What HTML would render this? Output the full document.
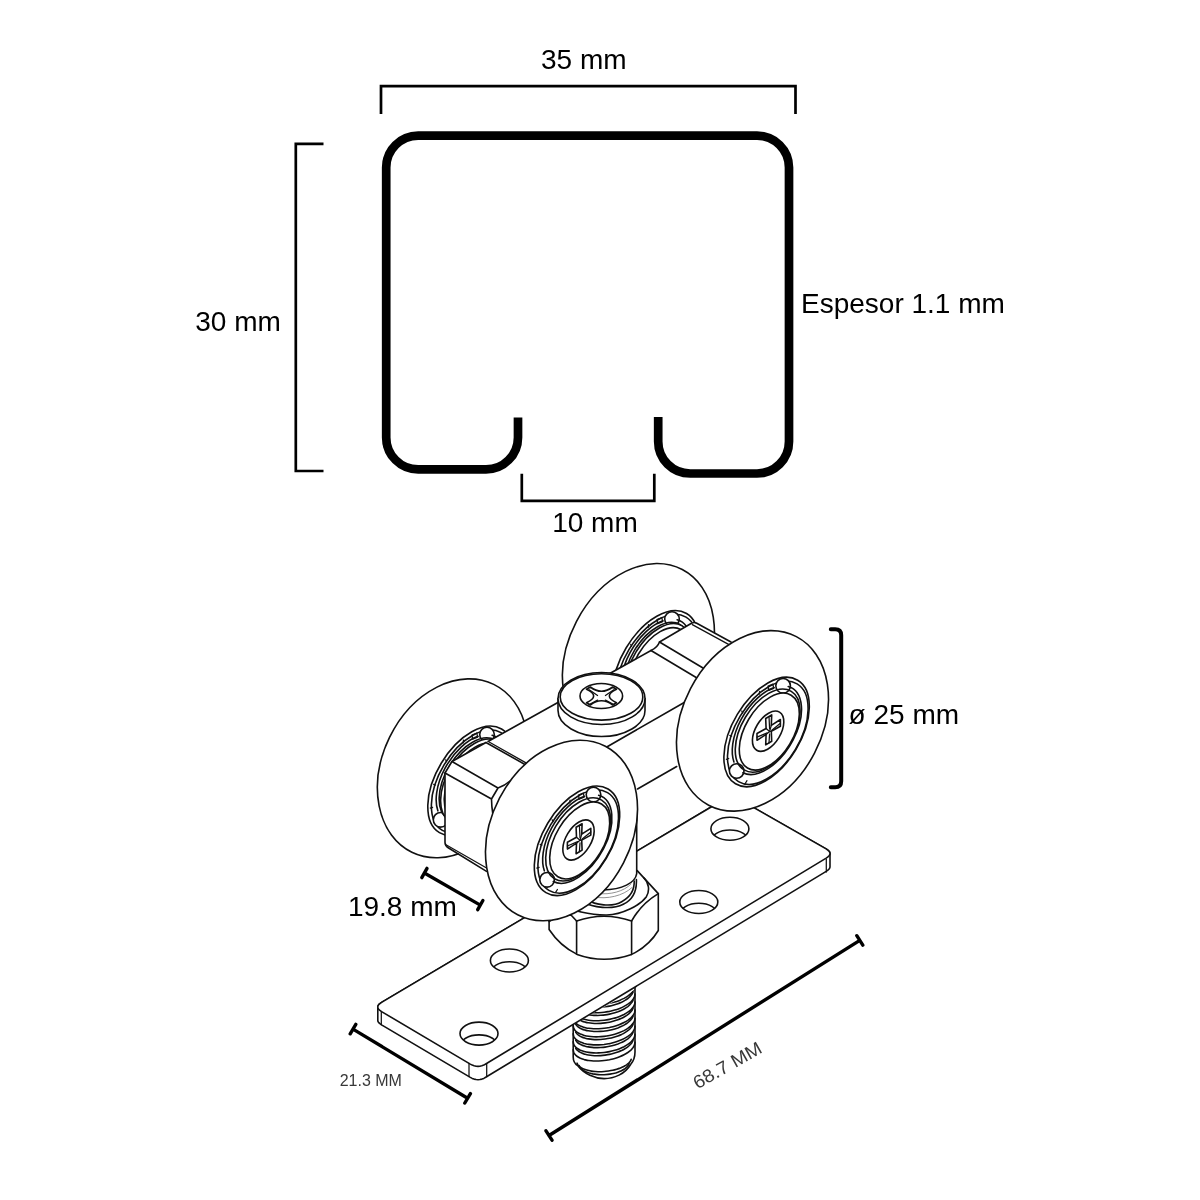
<!DOCTYPE html>
<html lang="es">
<head>
<meta charset="utf-8">
<title>Medidas del perfil y carro de rodamiento</title>
<style>
html,body{margin:0;padding:0;background:#fff;}
body{width:1200px;height:1200px;overflow:hidden;position:relative;font-family:"Liberation Sans",sans-serif;}
svg{position:absolute;left:0;top:0;display:block;will-change:transform;}
.t{font-family:"Liberation Sans",sans-serif;font-size:28px;fill:#000;}
.s{font-family:"Liberation Sans",sans-serif;font-size:16px;fill:#383838;}
.dim{fill:none;stroke:#000;stroke-width:2.7;}
.prof{fill:none;stroke:#000;stroke-width:8.7;}
.l{fill:none;stroke:#111;stroke-width:1.6;stroke-linejoin:round;stroke-linecap:round;}
.lw{fill:#fff;stroke:#111;stroke-width:1.6;stroke-linejoin:round;stroke-linecap:round;}
.w{fill:#fff;stroke:none;}
.th{fill:none;stroke:#111;stroke-width:1.25;stroke-linejoin:round;stroke-linecap:round;}
.thw{fill:#fff;stroke:#111;stroke-width:1.25;stroke-linejoin:round;stroke-linecap:round;}
.b{fill:none;stroke:#000;stroke-width:3.4;stroke-linecap:round;stroke-linejoin:round;}
.b2{fill:none;stroke:#000;stroke-width:4;stroke-linecap:round;stroke-linejoin:round;}
</style>
</head>
<body>
<svg width="1200" height="1200" viewBox="0 0 1200 1200">
<!-- TOP: profile -->
<g id="top">
<path class="dim" d="M381,114 V86.2 H795.5 V114"/>
<path class="dim" d="M323.5,143.8 H295.8 V471 H323.5"/>
<path class="dim" d="M521.8,473.8 V500.8 H654.3 V473.8"/>
<path class="prof" d="M518,417.5 V437.4 A32,32 0 0 1 486,469.4 H418.2 A32,32 0 0 1 386.2,437.4 V167.6 A32,32 0 0 1 418.2,135.6 H757 A32,32 0 0 1 789,167.6 V441.5 A32,32 0 0 1 757,473.5 H690.2 A32,32 0 0 1 658.2,441.5 V417"/>
<text class="t" x="541" y="69">35 mm</text>
<text class="t" x="195.3" y="330.7">30 mm</text>
<text class="t" x="552.2" y="531.5">10 mm</text>
<text class="t" x="801" y="313.2">Espesor 1.1 mm</text>
</g>
<!-- BOTTOM: trolley -->
<g id="bot">
<ellipse class="lw" cx="638.4" cy="653.8" rx="95" ry="69.9" transform="rotate(-62.5 638.4 653.8)"/>
<ellipse class="lw" cx="655.5" cy="665.3" rx="60.39" ry="34.16" transform="rotate(120.97 655.5 665.3)"/>
<ellipse class="l" cx="656.7" cy="666.02" rx="56.99" ry="32.24" transform="rotate(120.97 656.7 666.02)"/>
<circle class="lw" cx="672" cy="619.1" r="7.3"/>
<circle class="lw" cx="625.6" cy="704.3" r="7.3"/>
<path class="l" d="M663,620.81 A48.99,27.71 120.97 0 0 622.85,695.34"/>
<path class="l" d="M631.73,706.09 A48.99,27.71 120.97 1 0 677.13,619.78"/>
<ellipse class="l" cx="656.57" cy="663.92" rx="45.84" ry="25.93" transform="rotate(120.97 656.57 663.92)"/>
<path class="th" d="M648.5,624.6 L648.2,627.4"/>
<path class="th" d="M630.7,644.3 L631.5,646.2"/>
<path class="th" d="M618.7,668.8 L620.5,669.5"/>
<path class="th" d="M615.3,692.6 L617.6,691.8"/>
<path class="th" d="M634.1,716.8 L635.9,714"/>
<path class="th" d="M657,619.5 L661.8,617.5 L662.6,621.7 L657.6,623.7 Z"/>
<ellipse class="lw" cx="658.37" cy="665.62" rx="46.32" ry="26.2" transform="rotate(120.97 658.37 665.62)"/>
<ellipse class="lw" cx="659.23" cy="666.14" rx="42.44" ry="24.01" transform="rotate(120.97 659.23 666.14)"/>
<ellipse class="lw" cx="452.8" cy="768.3" rx="93.4" ry="70.4" transform="rotate(-64 452.8 768.3)"/>
<ellipse class="lw" cx="470.5" cy="780.8" rx="60.39" ry="34.16" transform="rotate(120.97 470.5 780.8)"/>
<ellipse class="l" cx="471.7" cy="781.52" rx="56.99" ry="32.24" transform="rotate(120.97 471.7 781.52)"/>
<circle class="lw" cx="487" cy="734.6" r="7.3"/>
<circle class="lw" cx="440.6" cy="819.8" r="7.3"/>
<path class="l" d="M478,736.31 A48.99,27.71 120.97 0 0 437.85,810.84"/>
<path class="l" d="M446.73,821.59 A48.99,27.71 120.97 1 0 492.13,735.28"/>
<ellipse class="l" cx="471.57" cy="779.42" rx="45.84" ry="25.93" transform="rotate(120.97 471.57 779.42)"/>
<path class="th" d="M463.5,740.1 L463.2,742.9"/>
<path class="th" d="M445.7,759.8 L446.5,761.7"/>
<path class="th" d="M433.7,784.3 L435.5,785"/>
<path class="th" d="M430.3,808.1 L432.6,807.3"/>
<path class="th" d="M449.1,832.3 L450.9,829.5"/>
<path class="th" d="M472,735 L476.8,733 L477.6,737.2 L472.6,739.2 Z"/>
<ellipse class="lw" cx="473.37" cy="781.12" rx="46.32" ry="26.2" transform="rotate(120.97 473.37 781.12)"/>
<ellipse class="lw" cx="474.23" cy="781.64" rx="42.44" ry="24.01" transform="rotate(120.97 474.23 781.64)"/>
<path class="lw" d="M573.2,1000 V1057 C573.2,1061 575.1,1064 577.6,1065.5 C584.1,1074 595.1,1078.6 604.1,1078.6 C614.1,1078.6 625.1,1074 630.6,1064.5 C633.6,1061 635,1057 635,1052 V985 Z"/>
<clipPath id="bc"><path d="M560,1090 V1032 L650,981 V1090 Z"/></clipPath>
<g clip-path="url(#bc)">
<path class="l" d="M573.2,977.4 C573.3,977.8 573.4,979 573.7,979.8 C574,980.6 574.5,981.4 575.1,982.1 C575.7,982.8 576.4,983.5 577.3,984.1 C578.2,984.7 579.3,985.3 580.4,985.8 C581.6,986.3 582.9,986.7 584.2,987.1 C585.6,987.5 587.1,987.8 588.6,988 C590.2,988.3 591.9,988.4 593.5,988.5 C595.2,988.6 597,988.6 598.7,988.5 C600.5,988.5 602.3,988.3 604.1,988.1 C605.9,987.9 607.7,987.6 609.5,987.2 C611.2,986.9 613,986.4 614.7,985.9 C616.3,985.5 618,984.9 619.6,984.3 C621.1,983.7 622.6,983 624,982.3 C625.3,981.6 626.6,980.8 627.8,980 C628.9,979.3 630,978.4 630.9,977.6 C631.8,976.8 632.5,975.9 633.1,975 C633.7,974.2 634.2,973.3 634.5,972.4 C634.8,971.6 634.9,970.3 635,969.9"/>
<path class="l" d="M575.7,983.9 C575.9,984.2 576.5,985.2 577.1,985.7 C577.6,986.3 578.3,986.8 579.1,987.3 C579.8,987.8 580.7,988.3 581.7,988.7 C582.6,989.1 583.6,989.5 584.7,989.8 C585.9,990.1 587,990.4 588.3,990.6 C589.5,990.8 590.8,991 592.2,991.1 C593.5,991.2 594.9,991.3 596.4,991.3 C597.8,991.3 599.2,991.3 600.7,991.2 C602.2,991.1 603.7,990.9 605.1,990.7 C606.6,990.5 608.1,990.3 609.5,990 C611,989.7 612.4,989.3 613.8,988.9 C615.2,988.5 616.6,988.1 617.9,987.6 C619.2,987.1 620.4,986.6 621.6,986.1 C622.8,985.5 623.9,984.9 624.9,984.3 C626,983.7 626.9,983.1 627.8,982.4 C628.7,981.8 629.5,981.1 630.1,980.4 C630.8,979.7 631.4,979 631.9,978.3 C632.3,977.6 632.8,976.5 633,976.2"/>
<path class="l" d="M573.2,985.4 C573.3,985.8 573.4,987.1 573.7,987.9 C574,988.6 574.5,989.4 575.1,990.1 C575.7,990.8 576.4,991.5 577.3,992.1 C578.2,992.8 579.3,993.3 580.4,993.8 C581.6,994.3 582.9,994.8 584.2,995.2 C585.6,995.5 587.1,995.9 588.6,996.1 C590.2,996.3 591.9,996.5 593.5,996.6 C595.2,996.6 597,996.6 598.7,996.6 C600.5,996.5 602.3,996.4 604.1,996.1 C605.9,995.9 607.7,995.6 609.5,995.3 C611.2,994.9 613,994.5 614.7,994 C616.3,993.5 618,992.9 619.6,992.3 C621.1,991.7 622.6,991.1 624,990.3 C625.3,989.6 626.6,988.9 627.8,988.1 C628.9,987.3 630,986.5 630.9,985.7 C631.8,984.8 632.5,983.9 633.1,983.1 C633.7,982.2 634.2,981.3 634.5,980.5 C634.8,979.6 634.9,978.3 635,977.9"/>
<path class="l" d="M575.7,992 C575.9,992.3 576.5,993.2 577.1,993.8 C577.6,994.3 578.3,994.9 579.1,995.4 C579.8,995.9 580.7,996.3 581.7,996.7 C582.6,997.1 583.6,997.5 584.7,997.8 C585.9,998.1 587,998.4 588.3,998.6 C589.5,998.9 590.8,999 592.2,999.1 C593.5,999.3 594.9,999.3 596.4,999.3 C597.8,999.4 599.2,999.3 600.7,999.2 C602.2,999.1 603.7,999 605.1,998.8 C606.6,998.6 608.1,998.3 609.5,998 C611,997.7 612.4,997.4 613.8,997 C615.2,996.6 616.6,996.1 617.9,995.7 C619.2,995.2 620.4,994.7 621.6,994.1 C622.8,993.6 623.9,993 624.9,992.4 C626,991.8 626.9,991.1 627.8,990.5 C628.7,989.8 629.5,989.1 630.1,988.4 C630.8,987.7 631.4,987 631.9,986.3 C632.3,985.6 632.8,984.6 633,984.2"/>
<path class="l" d="M573.2,993.5 C573.3,993.9 573.4,995.1 573.7,995.9 C574,996.7 574.5,997.5 575.1,998.2 C575.7,998.9 576.4,999.6 577.3,1000.2 C578.2,1000.8 579.3,1001.4 580.4,1001.9 C581.6,1002.4 582.9,1002.8 584.2,1003.2 C585.6,1003.6 587.1,1003.9 588.6,1004.1 C590.2,1004.4 591.9,1004.5 593.5,1004.6 C595.2,1004.7 597,1004.7 598.7,1004.6 C600.5,1004.6 602.3,1004.4 604.1,1004.2 C605.9,1004 607.7,1003.7 609.5,1003.3 C611.2,1003 613,1002.5 614.7,1002 C616.3,1001.6 618,1001 619.6,1000.4 C621.1,999.8 622.6,999.1 624,998.4 C625.3,997.7 626.6,996.9 627.8,996.1 C628.9,995.4 630,994.5 630.9,993.7 C631.8,992.9 632.5,992 633.1,991.1 C633.7,990.3 634.2,989.4 634.5,988.5 C634.8,987.7 634.9,986.4 635,986"/>
<path class="l" d="M575.7,1000 C575.9,1000.3 576.5,1001.3 577.1,1001.8 C577.6,1002.4 578.3,1002.9 579.1,1003.4 C579.8,1003.9 580.7,1004.4 581.7,1004.8 C582.6,1005.2 583.6,1005.6 584.7,1005.9 C585.9,1006.2 587,1006.5 588.3,1006.7 C589.5,1006.9 590.8,1007.1 592.2,1007.2 C593.5,1007.3 594.9,1007.4 596.4,1007.4 C597.8,1007.4 599.2,1007.4 600.7,1007.3 C602.2,1007.2 603.7,1007 605.1,1006.8 C606.6,1006.6 608.1,1006.4 609.5,1006.1 C611,1005.8 612.4,1005.4 613.8,1005 C615.2,1004.6 616.6,1004.2 617.9,1003.7 C619.2,1003.2 620.4,1002.7 621.6,1002.2 C622.8,1001.6 623.9,1001 624.9,1000.4 C626,999.8 626.9,999.2 627.8,998.5 C628.7,997.9 629.5,997.2 630.1,996.5 C630.8,995.8 631.4,995.1 631.9,994.4 C632.3,993.7 632.8,992.6 633,992.3"/>
<path class="l" d="M573.2,1001.5 C573.3,1001.9 573.4,1003.2 573.7,1004 C574,1004.7 574.5,1005.5 575.1,1006.2 C575.7,1006.9 576.4,1007.6 577.3,1008.2 C578.2,1008.9 579.3,1009.4 580.4,1009.9 C581.6,1010.4 582.9,1010.9 584.2,1011.3 C585.6,1011.6 587.1,1012 588.6,1012.2 C590.2,1012.4 591.9,1012.6 593.5,1012.7 C595.2,1012.7 597,1012.7 598.7,1012.7 C600.5,1012.6 602.3,1012.5 604.1,1012.2 C605.9,1012 607.7,1011.7 609.5,1011.4 C611.2,1011 613,1010.6 614.7,1010.1 C616.3,1009.6 618,1009 619.6,1008.4 C621.1,1007.8 622.6,1007.2 624,1006.4 C625.3,1005.7 626.6,1005 627.8,1004.2 C628.9,1003.4 630,1002.6 630.9,1001.8 C631.8,1000.9 632.5,1000 633.1,999.2 C633.7,998.3 634.2,997.4 634.5,996.6 C634.8,995.7 634.9,994.4 635,994"/>
<path class="l" d="M575.7,1008.1 C575.9,1008.4 576.5,1009.3 577.1,1009.9 C577.6,1010.4 578.3,1011 579.1,1011.5 C579.8,1012 580.7,1012.4 581.7,1012.8 C582.6,1013.2 583.6,1013.6 584.7,1013.9 C585.9,1014.2 587,1014.5 588.3,1014.7 C589.5,1015 590.8,1015.1 592.2,1015.2 C593.5,1015.4 594.9,1015.4 596.4,1015.4 C597.8,1015.5 599.2,1015.4 600.7,1015.3 C602.2,1015.2 603.7,1015.1 605.1,1014.9 C606.6,1014.7 608.1,1014.4 609.5,1014.1 C611,1013.8 612.4,1013.5 613.8,1013.1 C615.2,1012.7 616.6,1012.2 617.9,1011.8 C619.2,1011.3 620.4,1010.8 621.6,1010.2 C622.8,1009.7 623.9,1009.1 624.9,1008.5 C626,1007.9 626.9,1007.2 627.8,1006.6 C628.7,1005.9 629.5,1005.2 630.1,1004.5 C630.8,1003.8 631.4,1003.1 631.9,1002.4 C632.3,1001.7 632.8,1000.7 633,1000.3"/>
<path class="l" d="M573.2,1009.5 C573.3,1010 573.4,1011.2 573.7,1012 C574,1012.8 574.5,1013.6 575.1,1014.3 C575.7,1015 576.4,1015.7 577.3,1016.3 C578.2,1016.9 579.3,1017.5 580.4,1018 C581.6,1018.5 582.9,1018.9 584.2,1019.3 C585.6,1019.7 587.1,1020 588.6,1020.2 C590.2,1020.5 591.9,1020.6 593.5,1020.7 C595.2,1020.8 597,1020.8 598.7,1020.7 C600.5,1020.7 602.3,1020.5 604.1,1020.3 C605.9,1020.1 607.7,1019.8 609.5,1019.4 C611.2,1019.1 613,1018.6 614.7,1018.1 C616.3,1017.7 618,1017.1 619.6,1016.5 C621.1,1015.9 622.6,1015.2 624,1014.5 C625.3,1013.8 626.6,1013 627.8,1012.2 C628.9,1011.5 630,1010.6 630.9,1009.8 C631.8,1009 632.5,1008.1 633.1,1007.2 C633.7,1006.4 634.2,1005.5 634.5,1004.6 C634.8,1003.8 634.9,1002.5 635,1002"/>
<path class="l" d="M575.7,1016.1 C575.9,1016.4 576.5,1017.4 577.1,1017.9 C577.6,1018.5 578.3,1019 579.1,1019.5 C579.8,1020 580.7,1020.5 581.7,1020.9 C582.6,1021.3 583.6,1021.7 584.7,1022 C585.9,1022.3 587,1022.6 588.3,1022.8 C589.5,1023 590.8,1023.2 592.2,1023.3 C593.5,1023.4 594.9,1023.5 596.4,1023.5 C597.8,1023.5 599.2,1023.5 600.7,1023.4 C602.2,1023.3 603.7,1023.1 605.1,1022.9 C606.6,1022.7 608.1,1022.5 609.5,1022.2 C611,1021.9 612.4,1021.5 613.8,1021.1 C615.2,1020.7 616.6,1020.3 617.9,1019.8 C619.2,1019.3 620.4,1018.8 621.6,1018.3 C622.8,1017.7 623.9,1017.1 624.9,1016.5 C626,1015.9 626.9,1015.3 627.8,1014.6 C628.7,1014 629.5,1013.3 630.1,1012.6 C630.8,1011.9 631.4,1011.2 631.9,1010.5 C632.3,1009.8 632.8,1008.7 633,1008.4"/>
<path class="l" d="M573.2,1017.6 C573.3,1018 573.4,1019.3 573.7,1020.1 C574,1020.8 574.5,1021.6 575.1,1022.3 C575.7,1023 576.4,1023.7 577.3,1024.3 C578.2,1025 579.3,1025.5 580.4,1026 C581.6,1026.5 582.9,1027 584.2,1027.4 C585.6,1027.7 587.1,1028.1 588.6,1028.3 C590.2,1028.5 591.9,1028.7 593.5,1028.8 C595.2,1028.8 597,1028.8 598.7,1028.8 C600.5,1028.7 602.3,1028.6 604.1,1028.3 C605.9,1028.1 607.7,1027.8 609.5,1027.5 C611.2,1027.1 613,1026.7 614.7,1026.2 C616.3,1025.7 618,1025.1 619.6,1024.5 C621.1,1023.9 622.6,1023.3 624,1022.5 C625.3,1021.8 626.6,1021.1 627.8,1020.3 C628.9,1019.5 630,1018.7 630.9,1017.9 C631.8,1017 632.5,1016.1 633.1,1015.3 C633.7,1014.4 634.2,1013.5 634.5,1012.7 C634.8,1011.8 634.9,1010.5 635,1010.1"/>
<path class="l" d="M575.7,1024.2 C575.9,1024.5 576.5,1025.4 577.1,1026 C577.6,1026.5 578.3,1027.1 579.1,1027.6 C579.8,1028.1 580.7,1028.5 581.7,1028.9 C582.6,1029.3 583.6,1029.7 584.7,1030 C585.9,1030.3 587,1030.6 588.3,1030.8 C589.5,1031.1 590.8,1031.2 592.2,1031.3 C593.5,1031.5 594.9,1031.5 596.4,1031.5 C597.8,1031.6 599.2,1031.5 600.7,1031.4 C602.2,1031.3 603.7,1031.2 605.1,1031 C606.6,1030.8 608.1,1030.5 609.5,1030.2 C611,1029.9 612.4,1029.6 613.8,1029.2 C615.2,1028.8 616.6,1028.3 617.9,1027.9 C619.2,1027.4 620.4,1026.9 621.6,1026.3 C622.8,1025.8 623.9,1025.2 624.9,1024.6 C626,1024 626.9,1023.3 627.8,1022.7 C628.7,1022 629.5,1021.3 630.1,1020.6 C630.8,1019.9 631.4,1019.2 631.9,1018.5 C632.3,1017.8 632.8,1016.8 633,1016.4"/>
<path class="l" d="M573.2,1025.7 C573.3,1026.1 573.4,1027.3 573.7,1028.1 C574,1028.9 574.5,1029.7 575.1,1030.4 C575.7,1031.1 576.4,1031.8 577.3,1032.4 C578.2,1033 579.3,1033.6 580.4,1034.1 C581.6,1034.6 582.9,1035 584.2,1035.4 C585.6,1035.8 587.1,1036.1 588.6,1036.3 C590.2,1036.6 591.9,1036.7 593.5,1036.8 C595.2,1036.9 597,1036.9 598.7,1036.8 C600.5,1036.8 602.3,1036.6 604.1,1036.4 C605.9,1036.2 607.7,1035.9 609.5,1035.5 C611.2,1035.2 613,1034.7 614.7,1034.2 C616.3,1033.8 618,1033.2 619.6,1032.6 C621.1,1032 622.6,1031.3 624,1030.6 C625.3,1029.9 626.6,1029.1 627.8,1028.3 C628.9,1027.6 630,1026.7 630.9,1025.9 C631.8,1025.1 632.5,1024.2 633.1,1023.3 C633.7,1022.5 634.2,1021.6 634.5,1020.7 C634.8,1019.9 634.9,1018.6 635,1018.2"/>
<path class="l" d="M575.7,1032.2 C575.9,1032.5 576.5,1033.5 577.1,1034 C577.6,1034.6 578.3,1035.1 579.1,1035.6 C579.8,1036.1 580.7,1036.6 581.7,1037 C582.6,1037.4 583.6,1037.8 584.7,1038.1 C585.9,1038.4 587,1038.7 588.3,1038.9 C589.5,1039.1 590.8,1039.3 592.2,1039.4 C593.5,1039.5 594.9,1039.6 596.4,1039.6 C597.8,1039.6 599.2,1039.6 600.7,1039.5 C602.2,1039.4 603.7,1039.2 605.1,1039 C606.6,1038.8 608.1,1038.6 609.5,1038.3 C611,1038 612.4,1037.6 613.8,1037.2 C615.2,1036.8 616.6,1036.4 617.9,1035.9 C619.2,1035.4 620.4,1034.9 621.6,1034.4 C622.8,1033.8 623.9,1033.2 624.9,1032.6 C626,1032 626.9,1031.4 627.8,1030.7 C628.7,1030.1 629.5,1029.4 630.1,1028.7 C630.8,1028 631.4,1027.3 631.9,1026.6 C632.3,1025.9 632.8,1024.8 633,1024.5"/>
<path class="l" d="M573.2,1033.7 C573.3,1034.1 573.4,1035.4 573.7,1036.2 C574,1036.9 574.5,1037.7 575.1,1038.4 C575.7,1039.1 576.4,1039.8 577.3,1040.4 C578.2,1041.1 579.3,1041.6 580.4,1042.1 C581.6,1042.6 582.9,1043.1 584.2,1043.5 C585.6,1043.8 587.1,1044.2 588.6,1044.4 C590.2,1044.6 591.9,1044.8 593.5,1044.9 C595.2,1044.9 597,1044.9 598.7,1044.9 C600.5,1044.8 602.3,1044.7 604.1,1044.5 C605.9,1044.2 607.7,1043.9 609.5,1043.6 C611.2,1043.2 613,1042.8 614.7,1042.3 C616.3,1041.8 618,1041.2 619.6,1040.6 C621.1,1040 622.6,1039.4 624,1038.6 C625.3,1037.9 626.6,1037.2 627.8,1036.4 C628.9,1035.6 630,1034.8 630.9,1034 C631.8,1033.1 632.5,1032.2 633.1,1031.4 C633.7,1030.5 634.2,1029.6 634.5,1028.8 C634.8,1027.9 634.9,1026.6 635,1026.2"/>
<path class="l" d="M575.7,1040.3 C575.9,1040.6 576.5,1041.5 577.1,1042.1 C577.6,1042.6 578.3,1043.2 579.1,1043.7 C579.8,1044.2 580.7,1044.6 581.7,1045 C582.6,1045.4 583.6,1045.8 584.7,1046.1 C585.9,1046.4 587,1046.7 588.3,1046.9 C589.5,1047.2 590.8,1047.3 592.2,1047.4 C593.5,1047.6 594.9,1047.6 596.4,1047.6 C597.8,1047.7 599.2,1047.6 600.7,1047.5 C602.2,1047.4 603.7,1047.3 605.1,1047.1 C606.6,1046.9 608.1,1046.6 609.5,1046.3 C611,1046 612.4,1045.7 613.8,1045.3 C615.2,1044.9 616.6,1044.4 617.9,1044 C619.2,1043.5 620.4,1043 621.6,1042.4 C622.8,1041.9 623.9,1041.3 624.9,1040.7 C626,1040.1 626.9,1039.4 627.8,1038.8 C628.7,1038.1 629.5,1037.4 630.1,1036.7 C630.8,1036 631.4,1035.3 631.9,1034.6 C632.3,1033.9 632.8,1032.9 633,1032.5"/>
<path class="l" d="M573.2,1041.8 C573.3,1042.2 573.4,1043.4 573.7,1044.2 C574,1045 574.5,1045.8 575.1,1046.5 C575.7,1047.2 576.4,1047.9 577.3,1048.5 C578.2,1049.1 579.3,1049.7 580.4,1050.2 C581.6,1050.7 582.9,1051.1 584.2,1051.5 C585.6,1051.9 587.1,1052.2 588.6,1052.4 C590.2,1052.7 591.9,1052.8 593.5,1052.9 C595.2,1053 597,1053 598.7,1052.9 C600.5,1052.9 602.3,1052.7 604.1,1052.5 C605.9,1052.3 607.7,1052 609.5,1051.6 C611.2,1051.3 613,1050.8 614.7,1050.3 C616.3,1049.9 618,1049.3 619.6,1048.7 C621.1,1048.1 622.6,1047.4 624,1046.7 C625.3,1046 626.6,1045.2 627.8,1044.4 C628.9,1043.7 630,1042.8 630.9,1042 C631.8,1041.2 632.5,1040.3 633.1,1039.4 C633.7,1038.6 634.2,1037.7 634.5,1036.8 C634.8,1036 634.9,1034.7 635,1034.2"/>
<path class="l" d="M575.7,1048.3 C575.9,1048.6 576.5,1049.6 577.1,1050.1 C577.6,1050.7 578.3,1051.2 579.1,1051.7 C579.8,1052.2 580.7,1052.7 581.7,1053.1 C582.6,1053.5 583.6,1053.9 584.7,1054.2 C585.9,1054.5 587,1054.8 588.3,1055 C589.5,1055.2 590.8,1055.4 592.2,1055.5 C593.5,1055.6 594.9,1055.7 596.4,1055.7 C597.8,1055.7 599.2,1055.7 600.7,1055.6 C602.2,1055.5 603.7,1055.3 605.1,1055.1 C606.6,1054.9 608.1,1054.7 609.5,1054.4 C611,1054.1 612.4,1053.7 613.8,1053.3 C615.2,1052.9 616.6,1052.5 617.9,1052 C619.2,1051.5 620.4,1051 621.6,1050.5 C622.8,1049.9 623.9,1049.3 624.9,1048.7 C626,1048.1 626.9,1047.5 627.8,1046.8 C628.7,1046.2 629.5,1045.5 630.1,1044.8 C630.8,1044.1 631.4,1043.4 631.9,1042.7 C632.3,1042 632.8,1040.9 633,1040.6"/>
<path class="l" d="M573.2,1049.8 C573.3,1050.2 573.4,1051.5 573.7,1052.3 C574,1053 574.5,1053.8 575.1,1054.5 C575.7,1055.2 576.4,1055.9 577.3,1056.5 C578.2,1057.2 579.3,1057.7 580.4,1058.2 C581.6,1058.7 582.9,1059.2 584.2,1059.6 C585.6,1059.9 587.1,1060.3 588.6,1060.5 C590.2,1060.7 591.9,1060.9 593.5,1061 C595.2,1061 597,1061 598.7,1061 C600.5,1060.9 602.3,1060.8 604.1,1060.5 C605.9,1060.3 607.7,1060 609.5,1059.7 C611.2,1059.3 613,1058.9 614.7,1058.4 C616.3,1057.9 618,1057.3 619.6,1056.7 C621.1,1056.1 622.6,1055.5 624,1054.7 C625.3,1054 626.6,1053.3 627.8,1052.5 C628.9,1051.7 630,1050.9 630.9,1050.1 C631.8,1049.2 632.5,1048.3 633.1,1047.5 C633.7,1046.6 634.2,1045.7 634.5,1044.9 C634.8,1044 634.9,1042.7 635,1042.3"/>
<path class="l" d="M577,1063.2 C577.1,1063.4 577.5,1064.4 577.9,1064.9 C578.3,1065.5 578.9,1066.1 579.5,1066.6 C580.2,1067.1 580.9,1067.6 581.7,1068.1 C582.6,1068.5 583.5,1069 584.5,1069.3 C585.6,1069.7 586.7,1070 587.8,1070.3 C589,1070.6 590.2,1070.9 591.5,1071.1 C592.8,1071.3 594.2,1071.4 595.5,1071.5 C596.9,1071.6 598.3,1071.7 599.8,1071.7 C601.2,1071.7 602.7,1071.6 604.1,1071.5 C605.5,1071.4 607,1071.2 608.4,1071 C609.9,1070.8 611.3,1070.6 612.7,1070.3 C614,1070 615.4,1069.6 616.7,1069.2 C618,1068.9 619.2,1068.4 620.4,1068 C621.5,1067.5 622.6,1067 623.7,1066.5 C624.7,1065.9 625.6,1065.4 626.5,1064.8 C627.3,1064.2 628,1063.6 628.7,1063 C629.3,1062.4 629.9,1061.8 630.3,1061.1 C630.7,1060.5 631.1,1059.5 631.2,1059.2"/>
<path class="l" d="M579.1,1065.6 C579.2,1065.9 579.6,1066.8 580.1,1067.4 C580.5,1068 581,1068.5 581.6,1069.1 C582.2,1069.6 582.9,1070.1 583.7,1070.6 C584.5,1071.1 585.4,1071.5 586.3,1071.9 C587.2,1072.3 588.3,1072.7 589.3,1073 C590.4,1073.3 591.5,1073.6 592.7,1073.9 C593.9,1074.1 595.1,1074.3 596.3,1074.4 C597.6,1074.6 598.9,1074.7 600.2,1074.7 C601.5,1074.8 602.8,1074.8 604.1,1074.7 C605.4,1074.6 606.7,1074.5 608,1074.4 C609.3,1074.3 610.6,1074.1 611.9,1073.8 C613.1,1073.6 614.3,1073.3 615.5,1073 C616.7,1072.6 617.8,1072.3 618.9,1071.8 C619.9,1071.4 621,1071 621.9,1070.5 C622.8,1070 623.7,1069.5 624.5,1069 C625.3,1068.4 626,1067.9 626.6,1067.3 C627.2,1066.7 627.7,1066.1 628.1,1065.5 C628.6,1064.9 629,1063.9 629.1,1063.6"/>
</g>
<path class="lw" d="M377.8,1007 L378,1005.9 L378.7,1004.7 L379.9,1003.6 L381.6,1002.4 L723.8,799.5 L725.7,798.5 L727.6,797.8 L729.6,797.3 L731.5,797.2 L733.5,797.3 L735.4,797.7 L737.4,798.4 L739.3,799.4 L826.1,848.9 L827.8,850 L829,851.2 L829.8,852.3 L830,853.5 L830,866.8 L829.8,867.9 L829.1,869 L827.9,870.2 L826.2,871.4 L485.7,1077.3 L483.8,1078.4 L481.9,1079.1 L479.9,1079.5 L478,1079.7 L476.1,1079.5 L474.1,1079.1 L472.2,1078.4 L470.3,1077.4 L381.6,1024.9 L379.9,1023.7 L378.7,1022.6 L378,1021.5 L377.8,1020.3 Z"/>
<path class="lw" d="M381.6,1002.4 L379.9,1003.6 L378.7,1004.7 L378,1005.9 L377.8,1007 L378,1008.1 L378.7,1009.3 L379.9,1010.4 L381.6,1011.6 L470.3,1064.1 L472.2,1065.1 L474.1,1065.8 L476.1,1066.3 L478,1066.4 L479.9,1066.2 L481.8,1065.8 L483.8,1065.1 L485.7,1064 L826.2,858.1 L827.9,856.9 L829.1,855.7 L829.8,854.6 L830,853.4 L829.8,852.3 L829,851.2 L827.8,850.1 L826.1,848.9 L739.3,799.4 L737.4,798.4 L735.4,797.7 L733.5,797.3 L731.5,797.2 L729.6,797.3 L727.6,797.8 L725.7,798.5 L723.8,799.5 Z"/>
<path class="th" d="M381.3,1011.8 L381.3,1024.8"/>
<path class="th" d="M469,1063.4 L469,1076.6"/>
<path class="th" d="M486.7,1063.5 L486.7,1076.7"/>
<path class="th" d="M826.3,859 L826.3,872"/>
<clipPath id="h509"><ellipse cx="509.4" cy="960.5" rx="19" ry="11.5"/></clipPath>
<ellipse class="lw" cx="509.4" cy="960.5" rx="19" ry="11.5"/>
<ellipse class="l" cx="509.4" cy="973.3" rx="19" ry="11.5" clip-path="url(#h509)"/>
<clipPath id="h479"><ellipse cx="479" cy="1033.6" rx="19" ry="11.5"/></clipPath>
<ellipse class="lw" cx="479" cy="1033.6" rx="19" ry="11.5"/>
<ellipse class="l" cx="479" cy="1046.4" rx="19" ry="11.5" clip-path="url(#h479)"/>
<clipPath id="h729"><ellipse cx="729.9" cy="828.7" rx="19" ry="11.5"/></clipPath>
<ellipse class="lw" cx="729.9" cy="828.7" rx="19" ry="11.5"/>
<ellipse class="l" cx="729.9" cy="841.5" rx="19" ry="11.5" clip-path="url(#h729)"/>
<clipPath id="h698"><ellipse cx="698.8" cy="902" rx="19" ry="11.5"/></clipPath>
<ellipse class="lw" cx="698.8" cy="902" rx="19" ry="11.5"/>
<ellipse class="l" cx="698.8" cy="914.8" rx="19" ry="11.5" clip-path="url(#h698)"/>
<path class="w" d="M445,773 L452,761.5 L486,742.5 L651,650.5 L659.5,642 L693,622 L731,642 L780,670 L780,710 L677,766 L637,790 L600,800 L560,870 L486,870.3 L445,845 Z"/>
<path class="l" d="M486.5,871.4 L448.2,847.8 Q445,845.6 445,842.5 V773 L452,761.5 L486,742.5"/>
<path class="th" d="M446,844.7 L487,868.3"/>
<path class="l" d="M445,773 L491.5,799 M452,761.5 L498,788 L491.5,799 Q491.5,806 493,815 M498,788 Q505,785.5 510,781"/>
<path class="l" d="M486,742.5 L524.5,764.2"/>
<path class="th" d="M487.8,741.3 L526,762.9"/>
<path class="l" d="M488.5,741.2 L651,650.5"/>
<path class="l" d="M651,650.5 Q657.5,647.5 659.5,642 L691.5,623.3 Q693.8,621.8 696.3,623 L731,642"/>
<path class="th" d="M692.3,624.6 L729,644.6"/>
<path class="l" d="M659.5,642 L703,668 M651,650.5 L697,678"/>
<path class="l" d="M602,749.7 L684.2,702.5"/>
<path class="l" d="M637.5,789 L676.7,766.5"/>
<path class="lw" d="M558,698.5 V710.5 C558,725 578.5,736.5 601.5,736.5 C624.5,736.5 645,725 645,710.5 V698.5 Z"/>
<ellipse class="lw" cx="601.5" cy="698.5" rx="43.5" ry="26"/>
<ellipse class="l" cx="601.5" cy="696.9" rx="41.3" ry="23.2"/>
<ellipse class="l" cx="601.3" cy="696" rx="21.3" ry="12.5"/>
<path class="l" d="M612.7,687 L616.5,689.3 Q602.2,696 616.5,702.7 L616.5,702.7 L612.7,705 Q601.5,696.4 590.3,705 L590.3,705 L586.5,702.7 Q600.8,696 586.5,689.3 L586.5,689.3 L590.3,687 Q601.5,695.6 612.7,687 Z"/>
<path class="th" d="M613.8,689.8 L605.4,695.5"/>
<path class="th" d="M613.8,704.6 L605.4,700.1"/>
<path class="th" d="M589.2,704.6 L597.6,700.1"/>
<path class="th" d="M589.2,689.8 L597.6,695.5"/>
<path class="lw" d="M549.1,905 V929.5 Q560,946 577.1,954.4 Q604,964 631.6,954.4 Q649,946 658.3,930.5 V893.6 L637.2,870.6 L600,870 L560,885 Z"/>
<path class="l" d="M576.6,921 V954.2 M631.6,921 V954.4"/>
<path class="l" d="M576.6,921 Q604,911.5 631.6,921 Q641,904 658.3,893.6"/>
<path class="l" d="M549.1,921.5 Q560,915 571,915 L576.6,921"/>
<path class="l" d="M562,905 C570,910 590,915.2 606.7,915 C622,914.6 640,905.5 646.4,896.7 C650,890.5 649,883 643.8,877.8"/>
<path class="l" d="M584,902 C592,907.5 612,910 623.3,904.2 C631,900.5 637,893 636.4,879.5"/>
<path class="l" d="M587,899.5 C595,905 612,907.5 621.7,901.7 C628.5,898 634.6,891 634.2,881"/>
<path class="lw" d="M580,800 V889 L603,890 C622,889.5 635.5,883 636.7,873.5 V800 Z"/>
<path class="th" style="stroke:#777;stroke-width:0.8" d="M598,893.5 C610,895 624,891.5 631,884"/>
<path class="th" style="stroke:#777;stroke-width:0.8" d="M594,897 C607,899.5 623,896 632,887.5"/>
<ellipse class="lw" cx="752.5" cy="720.9" rx="95" ry="69.9" transform="rotate(-62.5 752.5 720.9)"/>
<ellipse class="lw" cx="766.6" cy="732" rx="60.39" ry="34.16" transform="rotate(120.97 766.6 732)"/>
<ellipse class="l" cx="767.8" cy="732.72" rx="56.99" ry="32.24" transform="rotate(120.97 767.8 732.72)"/>
<circle class="lw" cx="783.1" cy="685.8" r="7.3"/>
<circle class="lw" cx="736.7" cy="771" r="7.3"/>
<path class="l" d="M774.1,687.51 A48.99,27.71 120.97 0 0 733.95,762.04"/>
<path class="l" d="M742.83,772.79 A48.99,27.71 120.97 1 0 788.23,686.48"/>
<ellipse class="l" cx="767.67" cy="730.62" rx="45.84" ry="25.93" transform="rotate(120.97 767.67 730.62)"/>
<path class="th" d="M759.6,691.3 L759.3,694.1"/>
<path class="th" d="M741.8,711 L742.6,712.9"/>
<path class="th" d="M729.8,735.5 L731.6,736.2"/>
<path class="th" d="M726.4,759.3 L728.7,758.5"/>
<path class="th" d="M745.2,783.5 L747,780.7"/>
<path class="th" d="M768.1,686.2 L772.9,684.2 L773.7,688.4 L768.7,690.4 Z"/>
<ellipse class="lw" cx="769.3" cy="731.6" rx="42.44" ry="24.01" transform="rotate(120.97 769.3 731.6)"/>
<ellipse class="l" cx="768.1" cy="731.2" rx="22.19" ry="12.55" transform="rotate(120.97 768.1 731.2)"/>
<path class="l" d="M771.3,731.3 L780.4,726.3 L780.4,719.5 L771.3,725.4 L771.7,714.9 L765.7,718.5 L766.1,728.5 L757,733.5 L757,740.3 L766.1,734.4 L765.7,744.9 L771.7,741.3 Z"/>
<path class="th" d="M771.3,725.4 L769.6,731.5"/>
<path class="th" d="M766.1,728.5 L769.6,731.5"/>
<path class="th" d="M766.1,734.4 L769.6,731.5"/>
<path class="th" d="M771.3,731.3 L769.6,731.5"/>
<path class="th" d="M780.4,723.2 L771.8,730.2"/>
<path class="th" d="M757,737.2 L767.2,732.9"/>
<path class="th" d="M769,716.5 L769.6,728.8"/>
<path class="th" d="M769,742.9 L769.6,734"/>
<ellipse class="lw" cx="561.5" cy="830.5" rx="95" ry="69.9" transform="rotate(-62.5 561.5 830.5)"/>
<ellipse class="lw" cx="577" cy="840.8" rx="60.39" ry="34.16" transform="rotate(120.97 577 840.8)"/>
<ellipse class="l" cx="578.2" cy="841.52" rx="56.99" ry="32.24" transform="rotate(120.97 578.2 841.52)"/>
<circle class="lw" cx="593.5" cy="794.6" r="7.3"/>
<circle class="lw" cx="547.1" cy="879.8" r="7.3"/>
<path class="l" d="M584.5,796.31 A48.99,27.71 120.97 0 0 544.35,870.84"/>
<path class="l" d="M553.23,881.59 A48.99,27.71 120.97 1 0 598.63,795.28"/>
<ellipse class="l" cx="578.07" cy="839.42" rx="45.84" ry="25.93" transform="rotate(120.97 578.07 839.42)"/>
<path class="th" d="M570,800.1 L569.7,802.9"/>
<path class="th" d="M552.2,819.8 L553,821.7"/>
<path class="th" d="M540.2,844.3 L542,845"/>
<path class="th" d="M536.8,868.1 L539.1,867.3"/>
<path class="th" d="M555.6,892.3 L557.4,889.5"/>
<path class="th" d="M578.5,795 L583.3,793 L584.1,797.2 L579.1,799.2 Z"/>
<ellipse class="lw" cx="579.7" cy="840.4" rx="42.44" ry="24.01" transform="rotate(120.97 579.7 840.4)"/>
<ellipse class="l" cx="578.5" cy="840" rx="22.19" ry="12.55" transform="rotate(120.97 578.5 840)"/>
<path class="l" d="M581.7,840.1 L590.8,835.1 L590.8,828.3 L581.7,834.2 L582.1,823.7 L576.1,827.3 L576.5,837.3 L567.4,842.3 L567.4,849.1 L576.5,843.2 L576.1,853.7 L582.1,850.1 Z"/>
<path class="th" d="M581.7,834.2 L580,840.3"/>
<path class="th" d="M576.5,837.3 L580,840.3"/>
<path class="th" d="M576.5,843.2 L580,840.3"/>
<path class="th" d="M581.7,840.1 L580,840.3"/>
<path class="th" d="M590.8,832 L582.2,839"/>
<path class="th" d="M567.4,846 L577.6,841.7"/>
<path class="th" d="M579.4,825.3 L580,837.6"/>
<path class="th" d="M579.4,851.7 L580,842.8"/>
<path class="b" d="M424.4,873 L480.3,905.1 M427,868.4 L421.8,877.6 M482.9,900.5 L477.7,909.7"/>
<path class="b" d="M353,1029.1 L467.6,1098.3 M355.8,1024.4 L350.2,1033.8 M470.4,1093.6 L464.8,1103"/>
<path class="b" d="M549,1135.5 L859.8,940.4 M546,1130.8 L552,1140.2 M856.8,935.7 L862.8,945.1"/>
<path class="b2" d="M830.8,629.3 H835.2 Q841.2,629.3 841.2,635.3 V781.2 Q841.2,787.2 835.2,787.2 H830.8"/>
<text class="t" x="848.6" y="723.8">ø 25 mm</text>
<text class="t" x="347.9" y="915.5">19.8 mm</text>
<text class="s" x="339.7" y="1085.8">21.3 MM</text>
<text class="s" style="font-size:18.4px" transform="translate(697.4,1089.4) rotate(-29.5) scale(1.06,1)">68.7 MM</text>
</g>
</svg>
</body>
</html>
